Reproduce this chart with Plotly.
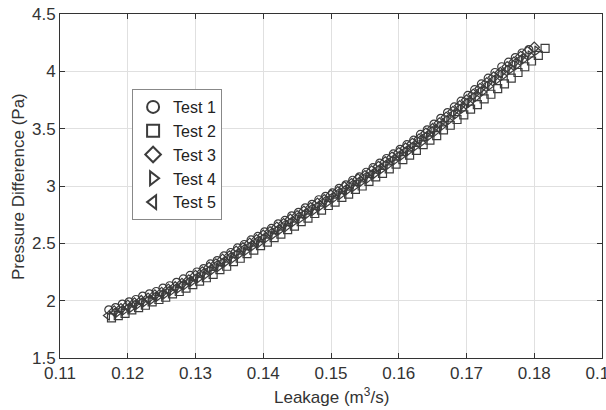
import plotly.graph_objects as go

# Test 1 (circles)
test1_x = [0.1172,0.1182,0.1192,0.1202,0.1212,0.1222,0.1232,0.1242,0.1252,0.1262,0.1272,0.1282,0.1292,0.1302,0.1312,0.1322,
           0.1332,0.1342,0.1352,0.1362,0.1372,0.1382,0.1392,0.1402,0.1412,0.1422,0.1432,0.1442,0.1452,0.1462,0.1472,0.1482,
           0.1492,0.1502,0.1512,0.1522,0.1532,0.1542,0.1552,0.1562,0.1572,0.1582,0.1592,0.1602,0.1612,0.1622,0.1632,0.1642,
           0.1652,0.1662,0.1672,0.1682,0.1692,0.1702,0.1712,0.1722,0.1732,0.1742,0.1752,0.1762,0.1772,0.1782,0.1792]
test1_y = [1.92,1.94,1.97,1.99,2.01,2.04,2.06,2.08,2.11,2.13,2.16,2.19,2.22,2.25,2.28,2.32,
           2.35,2.39,2.42,2.46,2.49,2.53,2.56,2.60,2.63,2.67,2.70,2.74,2.77,2.81,2.84,2.88,
           2.91,2.94,2.98,3.01,3.05,3.08,3.12,3.16,3.20,3.24,3.28,3.32,3.36,3.40,3.45,3.49,
           3.54,3.59,3.64,3.69,3.74,3.79,3.84,3.89,3.94,3.99,4.04,4.08,4.12,4.16,4.19]

# Test 2 (squares)
test2_x = [0.1176,0.1186,0.1196,0.1206,0.1216,0.1226,0.1236,0.1246,0.1256,0.1266,0.1276,0.1286,0.1296,0.1306,0.1316,0.1326,
           0.1336,0.1346,0.1356,0.1366,0.1376,0.1386,0.1396,0.1406,0.1416,0.1426,0.1436,0.1446,0.1456,0.1466,0.1476,0.1486,
           0.1496,0.1506,0.1516,0.1526,0.1536,0.1546,0.1556,0.1566,0.1576,0.1586,0.1596,0.1606,0.1616,0.1626,0.1636,0.1646,
           0.1656,0.1666,0.1676,0.1686,0.1696,0.1706,0.1716,0.1726,0.1736,0.1746,0.1756,0.1766,0.1776,0.1786,0.1796,0.1806,0.1816]
test2_y = [1.85,1.87,1.89,1.92,1.94,1.96,1.99,2.01,2.03,2.06,2.08,2.11,2.14,2.17,2.20,2.23,
           2.27,2.30,2.34,2.37,2.41,2.44,2.48,2.51,2.55,2.58,2.62,2.65,2.69,2.72,2.76,2.79,
           2.83,2.86,2.90,2.93,2.97,3.00,3.04,3.08,3.11,3.15,3.19,3.23,3.27,3.31,3.36,3.40,
           3.44,3.49,3.53,3.58,3.62,3.67,3.71,3.76,3.80,3.85,3.89,3.94,3.99,4.04,4.09,4.14,4.20]

# Test 3 (diamonds)
test3_x = [0.1180,0.1190,0.1200,0.1210,0.1220,0.1230,0.1240,0.1250,0.1260,0.1270,0.1280,0.1290,0.1300,0.1310,0.1320,0.1330,
           0.1340,0.1350,0.1360,0.1370,0.1380,0.1390,0.1400,0.1410,0.1420,0.1430,0.1440,0.1450,0.1460,0.1470,0.1480,0.1490,
           0.1500,0.1510,0.1520,0.1530,0.1540,0.1550,0.1560,0.1570,0.1580,0.1590,0.1600,0.1610,0.1620,0.1630,0.1640,0.1650,
           0.1660,0.1670,0.1680,0.1690,0.1700,0.1710,0.1720,0.1730,0.1740,0.1750,0.1760,0.1770,0.1780,0.1790,0.1800]
test3_y = [1.91,1.93,1.96,1.98,2.00,2.02,2.05,2.07,2.10,2.12,2.15,2.18,2.22,2.25,2.29,2.32,
           2.36,2.39,2.43,2.46,2.50,2.53,2.57,2.60,2.64,2.67,2.71,2.74,2.78,2.81,2.85,2.88,
           2.92,2.95,2.99,3.02,3.06,3.09,3.13,3.17,3.21,3.25,3.29,3.33,3.37,3.41,3.46,3.50,
           3.55,3.60,3.65,3.70,3.75,3.80,3.85,3.90,3.95,3.99,4.04,4.08,4.13,4.17,4.21]

# Test 4 (right triangles)
test4_x = [0.1184,0.1194,0.1204,0.1214,0.1224,0.1234,0.1244,0.1254,0.1264,0.1274,0.1284,0.1294,0.1304,0.1314,0.1324,0.1334,
           0.1344,0.1354,0.1364,0.1374,0.1384,0.1394,0.1404,0.1414,0.1424,0.1434,0.1444,0.1454,0.1464,0.1474,0.1484,0.1494,
           0.1504,0.1514,0.1524,0.1534,0.1544,0.1554,0.1564,0.1574,0.1584,0.1594,0.1604,0.1614,0.1624,0.1634,0.1644,0.1654,
           0.1664,0.1674,0.1684,0.1694,0.1704,0.1714,0.1724,0.1734,0.1744,0.1754,0.1764,0.1774,0.1784,0.1794,0.1804]
test4_y = [1.89,1.91,1.93,1.96,1.98,2.00,2.03,2.05,2.08,2.10,2.13,2.16,2.19,2.22,2.26,2.29,
           2.33,2.36,2.40,2.43,2.47,2.50,2.54,2.57,2.61,2.64,2.68,2.71,2.75,2.78,2.82,2.85,
           2.89,2.92,2.96,2.99,3.03,3.06,3.10,3.14,3.18,3.22,3.26,3.30,3.34,3.38,3.43,3.47,
           3.52,3.57,3.62,3.67,3.72,3.77,3.82,3.87,3.92,3.96,4.01,4.05,4.10,4.14,4.18]

# Test 5 (left triangles)
test5_x = [0.1170,0.1180,0.1190,0.1200,0.1210,0.1220,0.1230,0.1240,0.1250,0.1260,0.1270,0.1280,0.1290,0.1300,0.1310,0.1320,
           0.1330,0.1340,0.1350,0.1360,0.1370,0.1380,0.1390,0.1400,0.1410,0.1420,0.1430,0.1440,0.1450,0.1460,0.1470,0.1480,
           0.1490,0.1500,0.1510,0.1520,0.1530,0.1540,0.1550,0.1560,0.1570,0.1580,0.1590,0.1600,0.1610,0.1620,0.1630,0.1640,
           0.1650,0.1660,0.1670,0.1680,0.1690,0.1700,0.1710,0.1720,0.1730,0.1740,0.1750,0.1760,0.1770,0.1780]
test5_y = [1.87,1.90,1.92,1.94,1.97,1.99,2.01,2.04,2.06,2.09,2.11,2.14,2.17,2.20,2.24,2.27,
           2.31,2.34,2.38,2.41,2.45,2.48,2.52,2.55,2.59,2.62,2.66,2.69,2.73,2.76,2.80,2.83,
           2.87,2.90,2.94,2.97,3.01,3.04,3.08,3.11,3.15,3.19,3.23,3.27,3.31,3.35,3.40,3.44,
           3.49,3.53,3.58,3.63,3.68,3.73,3.78,3.83,3.88,3.93,3.98,4.02,4.07,4.11]

series_names = ["Test 1", "Test 2", "Test 3", "Test 4", "Test 5"]
symbols = ["circle-open", "square-open", "diamond-open", "triangle-right-open", "triangle-left-open"]
xs = [test1_x, test2_x, test3_x, test4_x, test5_x]
ys = [test1_y, test2_y, test3_y, test4_y, test5_y]

x_ticks = [0.11, 0.12, 0.13, 0.14, 0.15, 0.16, 0.17, 0.18, 0.19]
x_labels = ["0.11", "0.12", "0.13", "0.14", "0.15", "0.16", "0.17", "0.18", "0.19"]
y_ticks = [1.5, 2, 2.5, 3, 3.5, 4, 4.5]
y_labels = ["1.5", "2", "2.5", "3", "3.5", "4", "4.5"]

fig = go.Figure()
for name, sym, x, y in zip(series_names, symbols, xs, ys):
    n = min(len(x), len(y))
    fig.add_trace(go.Scatter(
        x=x[:n], y=y[:n], mode="markers", name=name,
        marker=dict(symbol=sym, size=8, color="#3c3c3c", line=dict(width=1.2, color="#3c3c3c")),
    ))

font_family = "Liberation Sans, Arial, sans-serif"
axis_common = dict(
    showgrid=True, gridcolor="#e0e0e0", gridwidth=1,
    showline=True, linecolor="#333", linewidth=1, mirror="ticks",
    ticks="inside", ticklen=5, tickcolor="#333",
    zeroline=False, automargin=False,
    tickfont=dict(size=17, color="#333"),
    ticklabeloverflow="allow",
)
fig.update_layout(
    width=606, height=410,
    margin=dict(l=60, r=4, t=14, b=52),
    paper_bgcolor="white", plot_bgcolor="white",
    font=dict(family=font_family, size=17, color="#333"),
    showlegend=True,
    legend=dict(
        x=0.133, y=0.782, xanchor="left", yanchor="top",
        bgcolor="white", bordercolor="#888", borderwidth=1,
        font=dict(size=16, color="#222"),
        itemsizing="constant", tracegroupgap=0,
    ),
    xaxis=dict(range=[0.11, 0.19], tickvals=x_ticks, ticktext=x_labels, **axis_common),
    yaxis=dict(range=[1.5, 4.5], tickvals=y_ticks, ticktext=y_labels, **axis_common),
    annotations=[
        dict(text="Leakage (m<sup>3</sup>/s)", xref="paper", yref="paper",
             x=0.5, y=-0.11, xanchor="center", yanchor="middle", showarrow=False,
             font=dict(size=17, color="#333")),
        dict(text="Pressure Difference (Pa)", xref="paper", yref="paper",
             x=-0.0775, y=0.5, xanchor="center", yanchor="middle", textangle=-90, showarrow=False,
             font=dict(size=17, color="#333")),
    ],
)

fig.write_html("out.html", config={"displayModeBar": False},
               post_script="document.body.style.margin='0';document.body.style.padding='0';")
